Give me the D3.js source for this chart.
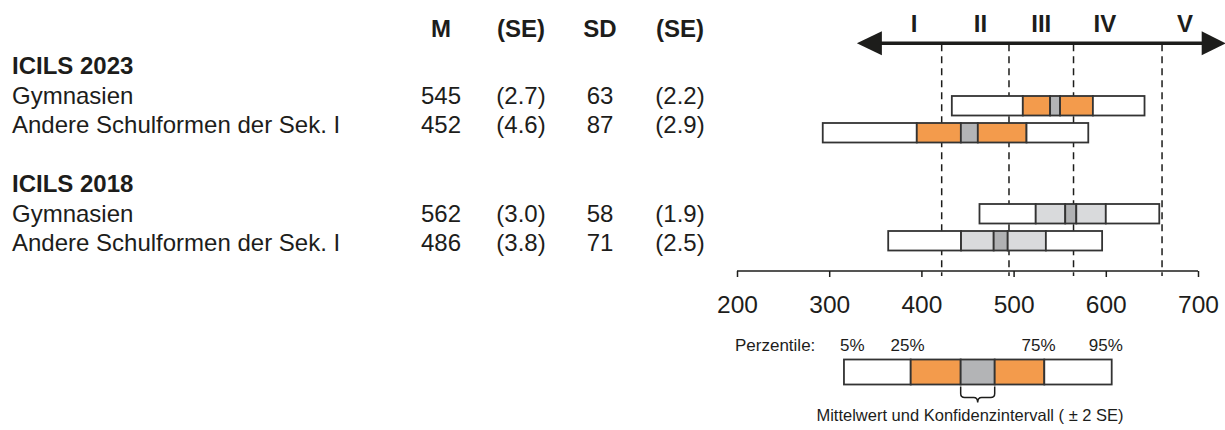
<!DOCTYPE html>
<html>
<head>
<meta charset="utf-8">
<script src="https://cdn.jsdelivr.net/npm/d3@7"></script>
<style>
  html, body { margin: 0; padding: 0; background: #fff; }
  svg { display: block; font-family: "Liberation Sans", Arial, sans-serif; }
</style>
</head>
<body>
<svg id="chart" width="1225" height="430"></svg>
<script>
// ---------- data ----------
const columnHeaders = ["M", "(SE)", "SD", "(SE)"];
const groups = ["ICILS 2023", "ICILS 2018"];
const categories = ["Gymnasien", "Andere Schulformen der Sek. I"];
const rowGroup = [0, 0, 1, 1];
const rowCategory = [0, 1, 0, 1];
const means = [545, 452, 562, 486];
const meanSE = [2.7, 4.6, 3.0, 3.8];
const sds = [63, 87, 58, 71];
const sdSE = [2.2, 2.9, 1.9, 2.5];
const p05 = [433, 293, 463, 364];
const p25 = [510, 395, 524, 443];
const p75 = [586, 514, 600, 535];
const p95 = [642, 581, 658, 596];
const levelCutoffs = [422, 495, 565, 661];
const levelLabels = ["I", "II", "III", "IV", "V"];
const levelLabelValues = [392, 464, 530, 599, 686];
const axisTicks = [200, 300, 400, 500, 600, 700];
const legendLabels = ["5%", "25%", "75%", "95%"];
const legendValues = [316, 388.4, 442.6, 479.5, 533.3, 606.4];
const legendLabelValues = [325, 385, 527, 600];

// ---------- style ----------
const ink = "#1d1d1b";
const orange = "#f39b4c";
const ciGrayNew = "#b3b4b6";
const lightGray = "#d9dadc";
const ciGrayOld = "#b0b1b3";
const outline = "#333333";
const fs = 24;

const svg = d3.select("#chart");
const x = d3.scaleLinear().domain([200, 700]).range([737, 1198]);

// Row layout (text rows and bar rows)
const textLine = i => 74 + 29.5 * i;
const textRowIndex = [1, 2, 5, 6];
const groupRowIndex = [0, 4];
const barCenter = d3.scaleLinear().domain([0, 1]).range([105.75, 132.75]);
const barRowIndex = [0, 1, 4, 5];
const barH = 19.5;

// ---------- table headers ----------
const colX = [441, 521, 600, 680];
svg.append("g").selectAll("text").data(columnHeaders).join("text")
  .attr("x", (d, i) => colX[i]).attr("y", 37)
  .attr("text-anchor", "middle")
  .attr("font-size", fs).attr("font-weight", "bold").attr("fill", ink)
  .text(d => d);

// group titles
svg.append("g").selectAll("text").data(groups).join("text")
  .attr("x", 12).attr("y", (d, i) => textLine(groupRowIndex[i]))
  .attr("font-size", fs).attr("font-weight", "bold").attr("fill", ink)
  .text(d => d);

// row labels and values
const rows = means.map((m, i) => ({
  label: categories[rowCategory[i]],
  vals: [String(m), "(" + meanSE[i].toFixed(1) + ")", String(sds[i]), "(" + sdSE[i].toFixed(1) + ")"],
  y: textLine(textRowIndex[i])
}));
const rowG = svg.append("g").selectAll("g").data(rows).join("g");
rowG.append("text").attr("x", 12).attr("y", d => d.y)
  .attr("font-size", fs).attr("fill", ink).text(d => d.label);
rowG.each(function(d) {
  d3.select(this).selectAll("text.v").data(d.vals).join("text")
    .attr("class", "v")
    .attr("x", (v, j) => colX[j]).attr("y", d.y)
    .attr("text-anchor", "middle")
    .attr("font-size", fs).attr("fill", ink).text(v => v);
});

// ---------- level arrow ----------
const arrowY = 43.3;
const leftTip = x(330), rightTip = x(730);
svg.append("line")
  .attr("x1", leftTip + 10).attr("x2", rightTip - 10)
  .attr("y1", arrowY).attr("y2", arrowY)
  .attr("stroke", ink).attr("stroke-width", 3.5);
svg.append("path")
  .attr("d", `M${leftTip},${arrowY} L${leftTip + 25},${arrowY - 12} L${leftTip + 25},${arrowY + 12} Z`)
  .attr("fill", ink);
svg.append("path")
  .attr("d", `M${rightTip},${arrowY} L${rightTip - 24},${arrowY - 12} L${rightTip - 24},${arrowY + 12} Z`)
  .attr("fill", ink);
svg.append("g").selectAll("text").data(levelLabels).join("text")
  .attr("x", (d, i) => x(levelLabelValues[i])).attr("y", 32)
  .attr("text-anchor", "middle")
  .attr("font-size", 24).attr("font-weight", "bold").attr("fill", ink)
  .text(d => d);

// dashed cutoffs
svg.append("g").selectAll("line").data(levelCutoffs).join("line")
  .attr("x1", d => x(d)).attr("x2", d => x(d))
  .attr("y1", arrowY + 1).attr("y2", 276)
  .attr("stroke", ink).attr("stroke-width", 1.5)
  .attr("stroke-dasharray", "7,5");

// ---------- bars ----------
const barsG = svg.append("g");
means.forEach((m, i) => {
  const yc = barCenter(barRowIndex[i]);
  const y0 = yc - barH / 2;
  const isNew = rowGroup[i] === 0;
  const segs = [
    [p05[i], p25[i], "#ffffff"],
    [p25[i], m - 2 * meanSE[i], isNew ? orange : lightGray],
    [m - 2 * meanSE[i], m + 2 * meanSE[i], isNew ? ciGrayNew : ciGrayOld],
    [m + 2 * meanSE[i], p75[i], isNew ? orange : lightGray],
    [p75[i], p95[i], "#ffffff"]
  ];
  barsG.append("g").selectAll("rect").data(segs).join("rect")
    .attr("x", d => x(d[0])).attr("width", d => x(d[1]) - x(d[0]))
    .attr("y", y0).attr("height", barH)
    .attr("fill", d => d[2])
    .attr("stroke", outline).attr("stroke-width", 1.8);
});

// ---------- axis ----------
const axisY = 271;
const axis = d3.axisBottom(x).tickValues(axisTicks).tickSize(6).tickPadding(19).tickFormat(d3.format("d"));
const axG = svg.append("g").attr("transform", `translate(0,${axisY})`).call(axis);
axG.select(".domain").attr("stroke", ink).attr("stroke-width", 1.5).attr("d", `M${x(200)},0H${x(700)}`);
axG.selectAll(".tick line").attr("stroke", ink).attr("stroke-width", 1.5);
axG.selectAll(".tick text").attr("font-size", 24.5).attr("fill", ink)
  .attr("font-family", "Liberation Sans, Arial, sans-serif").attr("dy", "0.71em");

// ---------- legend ----------
const legG = svg.append("g");
legG.append("text").attr("x", 735).attr("y", 350.5)
  .attr("font-size", 17).attr("fill", ink).text("Perzentile:");
legG.selectAll("text.pl").data(legendLabels).join("text").attr("class", "pl")
  .attr("x", (d, i) => x(legendLabelValues[i])).attr("y", 350.5)
  .attr("text-anchor", "middle")
  .attr("font-size", 17).attr("fill", ink).text(d => d);
const legFills = ["#ffffff", orange, ciGrayNew, orange, "#ffffff"];
const legSegs = d3.pairs(legendValues).map((p, i) => [p[0], p[1], legFills[i]]);
const legTop = 359.5, legH = 25;
legG.selectAll("rect").data(legSegs).join("rect")
  .attr("x", d => x(d[0])).attr("width", d => x(d[1]) - x(d[0]))
  .attr("y", legTop).attr("height", legH)
  .attr("fill", d => d[2])
  .attr("stroke", outline).attr("stroke-width", 1.8);
// bracket under CI
const bl = x(legendValues[2]), br = x(legendValues[3]), bm = (bl + br) / 2;
const bt = legTop + legH + 2, bh = 397.5;
legG.append("path")
  .attr("d", `M${bl},${bt} L${bl},${bh - 4} Q${bl},${bh} ${bl + 4},${bh} L${bm - 4},${bh} Q${bm},${bh} ${bm},${bh + 5}` +
             ` Q${bm},${bh} ${bm + 4},${bh} L${br - 4},${bh} Q${br},${bh} ${br},${bh - 4} L${br},${bt}`)
  .attr("fill", "none").attr("stroke", ink).attr("stroke-width", 1.5);
legG.append("text").attr("x", 970).attr("y", 421)
  .attr("text-anchor", "middle")
  .attr("font-size", 16.5).attr("fill", ink)
  .text("Mittelwert und Konfidenzintervall ( ± 2 SE)");
</script>
</body>
</html>
